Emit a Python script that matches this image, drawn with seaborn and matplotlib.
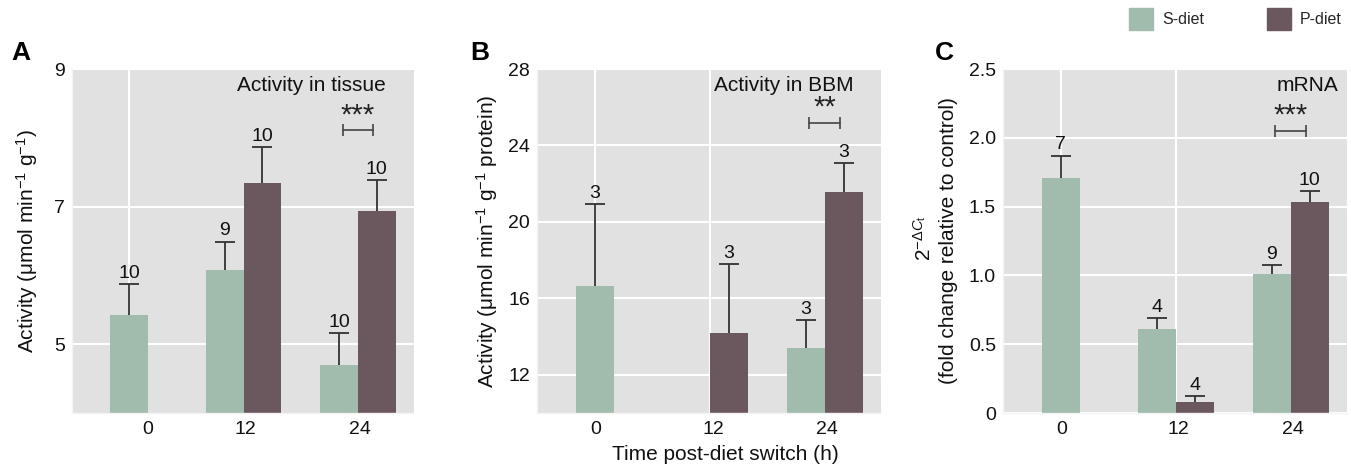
import numpy as np
import pandas as pd
import matplotlib
matplotlib.use("Agg")
import matplotlib.pyplot as plt
import matplotlib.patches as mpatches
import seaborn as sns

# ---------------- data ----------------
times = ["0", "12", "24"]
diets = ["S-diet", "P-diet"]

# Panel A: activity in tissue
A_s_mean = [5.42, 6.08, 4.70]
A_s_sem = [0.45, 0.41, 0.46]
A_s_n = [10, 9, 10]
A_p_mean = [np.nan, 7.35, 6.93]
A_p_sem = [np.nan, 0.51, 0.46]
A_p_n = [None, 10, 10]

# Panel B: activity in BBM
B_s_mean = [16.63, np.nan, 13.40]
B_s_sem = [4.30, np.nan, 1.46]
B_s_n = [3, None, 3]
B_p_mean = [np.nan, 14.17, 21.57]
B_p_sem = [np.nan, 3.61, 1.52]
B_p_n = [None, 3, 3]

# Panel C: mRNA
C_s_mean = [1.705, 0.61, 1.01]
C_s_sem = [0.165, 0.078, 0.065]
C_s_n = [7, 4, 9]
C_p_mean = [np.nan, 0.082, 1.533]
C_p_sem = [np.nan, 0.038, 0.077]
C_p_n = [None, 4, 10]

sig_A, sig_B, sig_C = "***", "**", "***"
sig_y = [8.11, 25.2, 2.05]

colors = {"S-diet": "#a1bcad", "P-diet": "#6b585e"}
BG = "#e1e1e1"

# ---------------- style ----------------
sns.set_theme(style="darkgrid")
plt.rcParams["font.family"] = ["Liberation Sans", "DejaVu Sans"]
plt.rcParams["mathtext.fontset"] = "custom"
plt.rcParams["mathtext.rm"] = "Liberation Sans"
plt.rcParams["mathtext.it"] = "Liberation Sans:italic"
plt.rcParams["mathtext.bf"] = "Liberation Sans:bold"

W, H = 1351, 470
fig = plt.figure(figsize=(W / 100, H / 100), dpi=100)

HALF = 0.165


def build(s_mean, s_sem, s_n, p_mean, p_sem, p_n):
    rows = []
    for i, t in enumerate(times):
        for d, m, e, n in (("S-diet", s_mean[i], s_sem[i], s_n[i]),
                           ("P-diet", p_mean[i], p_sem[i], p_n[i])):
            if np.isnan(m):
                continue
            if t == "0":
                pos = float(i)
            else:
                pos = i - HALF if d == "S-diet" else i + HALF
            rows.append(dict(time=t, diet=d, pos=round(pos, 4), value=m, sem=e, n=n))
    return pd.DataFrame(rows)


panels = [
    dict(df=build(A_s_mean, A_s_sem, A_s_n, A_p_mean, A_p_sem, A_p_n),
         rect=[72 / W, 1 - 413 / H, 342 / W, 344 / H], ylim=(4, 9), yticks=[5, 7, 9],
         yticklabels=["5", "7", "9"], title="Activity in tissue", title_x=0.918,
         vgrid=[0], xtick_off=[0.165, 0.02, 0.02], sig=sig_A, sig_y=sig_y[0],
         ylabel=r"Activity ($\mathrm{\mu}$mol min$^{-1}$ g$^{-1}$)", ylabel_x=27,
         letter="A", letter_x=11),
    dict(df=build(B_s_mean, B_s_sem, B_s_n, B_p_mean, B_p_sem, B_p_n),
         rect=[537 / W, 1 - 413 / H, 344 / W, 344 / H], ylim=(10, 28),
         yticks=[12, 16, 20, 24, 28], yticklabels=["12", "16", "20", "24", "28"],
         title="Activity in BBM", title_x=0.919, vgrid=[0, 1],
         xtick_off=[0.01, 0.03, 0.02], sig=sig_B, sig_y=sig_y[1],
         ylabel=r"Activity ($\mathrm{\mu}$mol min$^{-1}$ g$^{-1}$ protein)", ylabel_x=487,
         letter="B", letter_x=470),
    dict(df=build(C_s_mean, C_s_sem, C_s_n, C_p_mean, C_p_sem, C_p_n),
         rect=[1003 / W, 1 - 413 / H, 344 / W, 344 / H], ylim=(0, 2.5),
         yticks=[0, 0.5, 1.0, 1.5, 2.0, 2.5],
         yticklabels=["0", "0.5", "1.0", "1.5", "2.0", "2.5"],
         title="mRNA", title_x=0.974, vgrid=[0, 1], xtick_off=[0.01, 0.02, 0.02],
         sig=sig_C, sig_y=sig_y[2], ylabel=None, ylabel_x=None,
         letter="C", letter_x=935),
]

for p in panels:
    ax = fig.add_axes(p["rect"])
    ax.set_facecolor(BG)
    df = p["df"]
    sns.barplot(data=df, x="pos", y="value", hue="diet", palette=colors,
                hue_order=diets, native_scale=True, dodge=False, width=1.0,
                errorbar=None, saturation=1, linewidth=0, legend=False, ax=ax, zorder=2)
    eb = ax.errorbar(df["pos"], df["value"], yerr=[np.zeros(len(df)), df["sem"]],
                     fmt="none", ecolor="#333333", elinewidth=1.3, capsize=7,
                     capthick=1.3, zorder=3)
    # keep only the upper caps
    caps = eb.lines[1]
    if len(caps) == 2:
        caps[0].set_visible(False)
    for _, r in df.iterrows():
        ax.annotate(str(int(r["n"])), (r["pos"], r["value"] + r["sem"]),
                    xytext=(0, 4.5), textcoords="offset points", ha="center",
                    va="baseline", fontsize=14, color="#111111", zorder=4)

    ax.set_xlim(-0.5, 2.49)
    ax.set_ylim(*p["ylim"])
    ax.set_yticks(p["yticks"])
    ax.set_yticklabels(p["yticklabels"])
    ax.set_xticks([i + o for i, o in enumerate(p["xtick_off"])])
    ax.set_xticklabels(times)
    ax.grid(False)
    ax.yaxis.grid(True, color="white", linewidth=1.5, zorder=0)
    for g in p["vgrid"]:
        ax.axvline(g, color="white", linewidth=1.5, zorder=0.5)
    ax.set_axisbelow(True)
    ax.tick_params(axis="both", length=0, labelsize=14, labelcolor="#111111")
    ax.tick_params(axis="y", pad=5)
    ax.tick_params(axis="x", pad=6)
    ax.set_xlabel("")
    ax.set_ylabel("")
    for side in ["top", "right"]:
        ax.spines[side].set_visible(False)
    for side in ["left", "bottom"]:
        ax.spines[side].set_visible(True)
        ax.spines[side].set_color("#f4f4f4")
        ax.spines[side].set_linewidth(1.0)

    ax.text(p["title_x"], 0.951, p["title"], transform=ax.transAxes, ha="right",
            va="center", fontsize=15, color="#111111")

    # significance bracket at 24 h between S and P bars
    x0, x1 = 2 - HALF + 0.03, 2 + HALF - 0.03
    ax.plot([x0, x1], [p["sig_y"]] * 2, color="#444444", lw=1.2, zorder=4)
    ax.plot([x0, x1], [p["sig_y"]] * 2, ls="none", marker="|", ms=8, mew=1.2,
            color="#444444", zorder=4)
    ax.annotate(p["sig"], (2, p["sig_y"]), xytext=(0, 5), textcoords="offset points",
                ha="center", va="baseline", fontsize=21, color="#222222")

    if p["ylabel"]:
        fig.text(p["ylabel_x"] / W, 1 - 241 / H, p["ylabel"], rotation=90,
                 ha="center", va="center", fontsize=15, color="#111111")
    fig.text(p["letter_x"] / W, 1 - 53 / H, p["letter"], fontsize=19,
             fontweight="bold", ha="left", va="center", color="black")

# C y-label (two lines)
fig.text(924 / W, 1 - 238 / H, r"$2^{-\Delta C_{\mathrm{t}}}$", rotation=90,
         ha="center", va="center", fontsize=15, color="#111111")
fig.text(949 / W, 1 - 241 / H, "(fold change relative to control)", rotation=90,
         ha="center", va="center", fontsize=15, color="#111111")

fig.text(725 / W, 1 - 454 / H, "Time post-diet switch (h)", ha="center",
         va="center", fontsize=15, color="#111111")

handles = [mpatches.Patch(color=colors[d], label=d) for d in diets]
fig.legend(handles=handles, loc="upper right", bbox_to_anchor=(1342 / W, 1 - 8 / H),
           ncol=2, frameon=False, fontsize=11.5, handlelength=1.5, handleheight=1.7,
           handletextpad=0.6, columnspacing=3.9, borderpad=0, borderaxespad=0)

fig.savefig("out.png", dpi=100)
